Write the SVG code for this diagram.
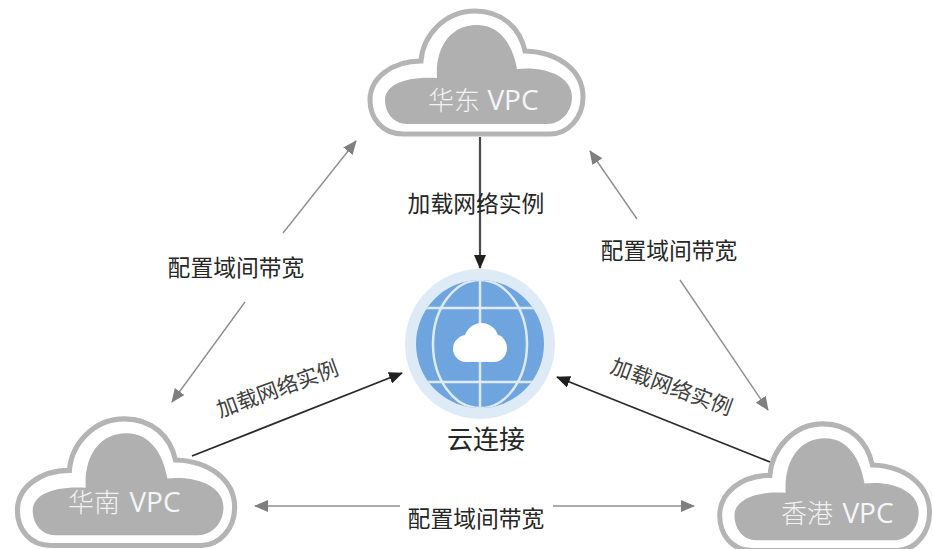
<svg xmlns="http://www.w3.org/2000/svg" width="933" height="549" viewBox="0 0 933 549">
<style>
text{font-family:"Noto Sans CJK SC","Noto Sans",sans-serif;text-anchor:middle}
.lb{font-size:22.8px;fill:#262626}
.sm{font-size:21.3px;fill:#404040}
.vpc{font-size:26px;fill:#f2f2f2;font-weight:300}
.vl{font-family:"Open Sans","Noto Sans CJK SC",sans-serif;font-size:28px;fill:#f4f6fa}
.g{stroke:#8f8f8f;stroke-width:1.4;fill:none;marker-end:url(#ag)}
.k{stroke:#2a2a2a;stroke-width:1.8;fill:none;marker-end:url(#ak)}
.co{fill:none;stroke:#b4b4b4;stroke-width:5}
.ci{fill:#b0b0b0}
.ln{stroke:#dfeaf7;stroke-width:2.5;fill:none}
</style>
<defs>
<marker id="ag" markerUnits="userSpaceOnUse" markerWidth="14" markerHeight="12" refX="13" refY="6" orient="auto"><path d="M0 0L14 6L0 12Z" fill="#7f7f7f"/></marker>
<marker id="ak" markerUnits="userSpaceOnUse" markerWidth="14" markerHeight="12" refX="13" refY="6" orient="auto"><path d="M0 0L14 6L0 12Z" fill="#1f1f1f"/></marker>
<g id="cloud">
<path class="co" d="M53 134C32 134 20 118 20 100C20 78 42 61 71 61C73 35 95 11 125 11C152 11 170 28 175 51C208 52 233 70 233 97C233 118 218 134 200 134Z"/>
<path class="ci" d="M57 124C44 124 35 113 35 100C35 85 55 76 87 78C85 48 100 25 127 25C150 25 163 45 167 69C195 66 222 76 222 97C222 113 210 124 197 124Z"/>
</g>
<clipPath id="globe"><circle cx="480" cy="344" r="64"/></clipPath>
</defs>
<g id="connectors">
<path class="k" d="M480 137V268" style="stroke-width:2.2;stroke:#4a4a4a"/>
<path class="k" d="M192 456L402 373"/>
<path class="k" d="M770 462L557 377"/>
<path class="g" d="M245 302L172 402"/>
<path class="g" d="M283 233L356 141"/>
<path class="g" d="M637 219L590 151"/>
<path class="g" d="M680 280L768 410"/>
<path class="g" d="M400 506H255"/>
<path class="g" d="M553 506H694"/>
</g>
<g id="node-east">
<use href="#cloud" transform="translate(350 0)"/>
<text class="vpc" x="454" y="110">华东</text><text class="vl" x="513" y="110">VPC</text>
</g>
<g id="node-south">
<use href="#cloud" transform="translate(-3 407.5) scale(1.02 1.03)"/>
<text class="vpc" x="94" y="512">华南</text><text class="vl" x="155" y="512">VPC</text>
</g>
<g id="node-hk">
<use href="#cloud" transform="translate(700 412.5) scale(.985 1.03)"/>
<text class="vpc" x="807" y="523">香港</text><text class="vl" x="868" y="523">VPC</text>
</g>
<g id="node-cc">
<circle cx="480" cy="344" r="75" fill="#dfeaf7"/>
<circle cx="480" cy="344" r="64" fill="#6fa5df"/>
<g clip-path="url(#globe)">
<ellipse class="ln" cx="480" cy="344" rx="47" ry="64"/>
<path class="ln" d="M410 308H550M410 382H550M480 275V411"/>
</g>
<path d="M466 362C458 362 453 355 453 349C453 341 459 336 465 335C468 327 475 323 481 323C490 323 496 329 498 335C503 336 507 342 507 348C507 356 501 362 494 362Z" fill="#fff"/>
<text x="486" y="449" font-size="26" fill="#262626">云连接</text>
</g>
<g id="labels">
<text class="lb" x="476" y="212">加载网络实例</text>
<text class="lb" x="236" y="276">配置域间带宽</text>
<text class="lb" x="669" y="259">配置域间带宽</text>
<text class="lb" x="476" y="527">配置域间带宽</text>
<text class="sm" transform="translate(280 396) rotate(-20)">加载网络实例</text>
<text class="sm" transform="translate(669 394) rotate(20)">加载网络实例</text>
</g>
</svg>
